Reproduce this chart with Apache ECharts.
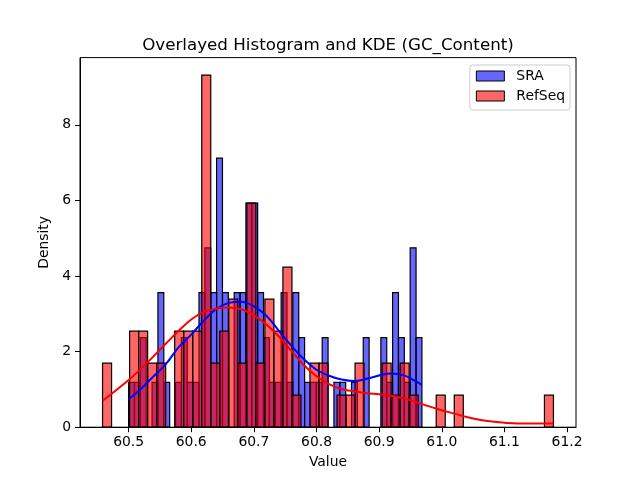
<!DOCTYPE html>
<html>
<head>
  <meta charset="utf-8">
  <title>Overlayed Histogram and KDE</title>
  <script src="https://cdn.jsdelivr.net/npm/echarts@6/dist/echarts.min.js"></script>
  <style>
    html, body { margin: 0; padding: 0; background: #fff; }
    #chart { width: 640px; height: 480px; }
  </style>
</head>
<body>
<div id="chart"></div>
<script>
// histogram counts per bin (50 bins each)
var sraRange = [60.5, 60.9683];
var sraCounts = [1, 1, 2, 0, 1, 3, 1, 0, 1, 2,
                 1, 1, 3, 4, 3, 6, 3, 0, 3, 3,
                 5, 5, 3, 2, 1, 1, 3, 1, 3, 2,
                 1, 1, 1, 2, 0, 1, 1, 0, 1, 0,
                 2, 0, 0, 2, 1, 3, 2, 1, 4, 2];
var refRange = [60.4584, 61.1783];
var refCounts = [2, 0, 0, 3, 3, 2, 2, 0, 3, 3,
                 3, 11, 2, 3, 4, 2, 7, 2, 4, 3,
                 5, 1, 0, 2, 2, 0, 1, 1, 2, 0,
                 0, 2, 1, 2, 1, 0, 0, 1, 0, 1,
                 0, 0, 0, 0, 0, 0, 0, 0, 0, 1];

// KDE curves
var sraKdeX = [60.50, 60.52, 60.54, 60.56, 60.58, 60.60, 60.62, 60.64, 60.66, 60.68,
               60.70, 60.72, 60.74, 60.76, 60.78, 60.80, 60.82, 60.84, 60.86, 60.88,
               60.90, 60.92, 60.94, 60.96, 60.968];
var sraKdeY = [0.74, 1.02, 1.35, 1.68, 2.12, 2.45, 2.82, 3.13, 3.29, 3.32,
               3.20, 2.95, 2.55, 2.15, 1.80, 1.52, 1.36, 1.26, 1.22, 1.28,
               1.37, 1.42, 1.37, 1.20, 1.12];
var refKdeX = [60.4584, 60.48, 60.50, 60.52, 60.54, 60.56, 60.58, 60.60, 60.62, 60.64,
               60.66, 60.68, 60.70, 60.72, 60.74, 60.76, 60.78, 60.80, 60.82, 60.84,
               60.86, 60.88, 60.90, 60.92, 60.94, 60.96, 60.98, 61.00, 61.02, 61.04,
               61.06, 61.08, 61.10, 61.12, 61.14, 61.16, 61.1783];
var refKdeY = [0.70, 0.98, 1.25, 1.55, 1.88, 2.22, 2.55, 2.85, 3.05, 3.14,
               3.17, 3.12, 2.96, 2.72, 2.40, 2.02, 1.64, 1.35, 1.14, 1.01,
               0.95, 0.90, 0.87, 0.83, 0.76, 0.66, 0.55, 0.45, 0.36, 0.27,
               0.20, 0.15, 0.12, 0.10, 0.10, 0.10, 0.10];

var xTicks = [60.5, 60.6, 60.7, 60.8, 60.9, 61.0, 61.1, 61.2];
var yTicks = [0, 2, 4, 6, 8];

// bins -> [start, end, density]
function makeBins(range, counts) {
  var n = counts.reduce(function (a, b) { return a + b; }, 0);
  var w = (range[1] - range[0]) / counts.length;
  var out = [];
  for (var i = 0; i < counts.length; i++) {
    if (counts[i] > 0) {
      out.push([range[0] + i * w, range[0] + (i + 1) * w, counts[i] / (n * w)]);
    }
  }
  return out;
}

function pairs(xs, ys) {
  return xs.map(function (x, i) { return [x, ys[i]]; });
}

var SRA_FILL = 'rgba(0,0,255,0.6)';
var REF_FILL = 'rgba(255,0,0,0.6)';

function histRender(fill) {
  return function (params, api) {
    var p0 = api.coord([api.value(0), 0]);
    var p1 = api.coord([api.value(1), api.value(2)]);
    return {
      type: 'rect',
      shape: { x: p0[0], y: p1[1], width: p1[0] - p0[0], height: p0[1] - p1[1] },
      style: { fill: fill, stroke: '#000', lineWidth: 1.2 }
    };
  };
}

var font = 'DejaVu Sans';
var chart = echarts.init(document.getElementById('chart'), null, { renderer: 'canvas' });

var option = {
  animation: false,
  backgroundColor: '#fff',
  title: {
    text: 'Overlayed Histogram and KDE (GC_Content)',
    left: 323,
    top: 32,
    textAlign: 'center',
    textStyle: { fontFamily: font, fontSize: 16.7, fontWeight: 'normal', color: '#000' }
  },
  legend: {
    orient: 'vertical',
    right: 70,
    top: 65,
    icon: 'rect',
    itemWidth: 28,
    itemHeight: 10,
    itemGap: 6,
    padding: [4, 5, 7, 6],
    backgroundColor: 'rgba(255,255,255,0.8)',
    borderColor: '#cccccc',
    borderWidth: 1,
    borderRadius: 3,
    formatter: '{t|{name}}',
    textStyle: {
      fontFamily: font, fontSize: 13.9, color: '#000',
      rich: { t: { fontFamily: font, fontSize: 13.9, color: '#000', padding: [0, 0, 0, 7] } }
    },
    data: [
      { name: 'SRA', itemStyle: { color: SRA_FILL, borderColor: '#000', borderWidth: 1 } },
      { name: 'RefSeq', itemStyle: { color: REF_FILL, borderColor: '#000', borderWidth: 1 } }
    ]
  },
  grid: {
    left: 80, right: 64, top: 57.6, bottom: 52.8,
    show: true, borderColor: '#000', borderWidth: 1, backgroundColor: 'transparent'
  },
  xAxis: {
    type: 'value',
    min: 60.4224,
    max: 61.2143,
    name: 'Value',
    nameLocation: 'middle',
    nameGap: 28,
    nameTextStyle: { fontFamily: font, fontSize: 13.9, color: '#000' },
    axisLine: { show: true, onZero: false, lineStyle: { color: '#000', width: 1 } },
    axisTick: { show: true, length: 5, customValues: xTicks, lineStyle: { color: '#000' } },
    axisLabel: {
      customValues: xTicks, margin: 8,
      fontFamily: font, fontSize: 13.9, color: '#000',
      formatter: function (v) { return v.toFixed(1); }
    },
    splitLine: { show: false }
  },
  yAxis: {
    type: 'value',
    min: 0,
    max: 9.78,
    name: 'Density',
    nameLocation: 'middle',
    nameGap: 22,
    nameTextStyle: { fontFamily: font, fontSize: 13.9, color: '#000' },
    axisLine: { show: true, lineStyle: { color: '#000', width: 1 } },
    axisTick: { show: true, length: 5, customValues: yTicks, lineStyle: { color: '#000' } },
    axisLabel: {
      customValues: yTicks, margin: 9,
      fontFamily: font, fontSize: 13.9, color: '#000'
    },
    splitLine: { show: false }
  },
  series: [
    {
      name: 'SRA',
      type: 'custom',
      renderItem: histRender(SRA_FILL),
      encode: { x: [0, 1], y: 2 },
      itemStyle: { color: SRA_FILL, borderColor: '#000' },
      data: makeBins(sraRange, sraCounts),
      z: 2
    },
    {
      name: 'RefSeq',
      type: 'custom',
      renderItem: histRender(REF_FILL),
      encode: { x: [0, 1], y: 2 },
      itemStyle: { color: REF_FILL, borderColor: '#000' },
      data: makeBins(refRange, refCounts),
      z: 3
    },
    {
      name: 'SRA KDE',
      type: 'line',
      smooth: 0.4,
      showSymbol: false,
      lineStyle: { color: '#0000ff', width: 2 },
      itemStyle: { color: '#0000ff' },
      data: pairs(sraKdeX, sraKdeY),
      z: 4
    },
    {
      name: 'RefSeq KDE',
      type: 'line',
      smooth: 0.4,
      showSymbol: false,
      lineStyle: { color: '#ff0000', width: 2 },
      itemStyle: { color: '#ff0000' },
      data: pairs(refKdeX, refKdeY),
      z: 5
    }
  ]
};

chart.setOption(option);
</script>
</body>
</html>
